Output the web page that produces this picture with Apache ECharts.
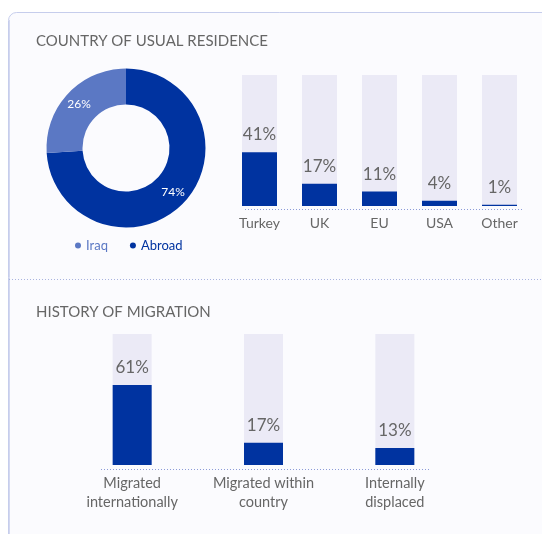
<!DOCTYPE html>
<html>
<head>
<meta charset="utf-8">
<script src="https://cdn.jsdelivr.net/npm/echarts@6/dist/echarts.min.js"></script>
<style>
  html, body { margin: 0; padding: 0; background: #ffffff; }
  #chart { width: 542px; height: 534px; }
</style>
</head>
<body>
<div id="chart"></div>
<script>
// residence donut
const residenceNames = ['Abroad', 'Iraq']
const residenceValues = [74, 26]
const residenceColors = ['#0033a0', '#5b78c4']

// country of residence bars
const countryCategories = ['Turkey', 'UK', 'EU', 'USA', 'Other']
const countryValues = [41, 17, 11, 4, 1]

// history of migration bars
const migrationCategories = ['Migrated\ninternationally', 'Migrated within\ncountry', 'Internally\ndisplaced']
const migrationValues = [61, 17, 13]

const FONT = 'Lato, "Open Sans", sans-serif'
const DARK = '#0033a0'
const BG = '#ebeaf6'
const TEXT = '#666666'

const chart = echarts.init(document.getElementById('chart'), null, { renderer: 'canvas' })

const dotted = (x1, x2, y, color) => ({
  type: 'line',
  silent: true,
  shape: { x1: x1, y1: y, x2: x2, y2: y },
  style: { stroke: color, lineWidth: 1, lineDash: [1, 2] }
})

const barSeries = (values, xi, width) => ({
  type: 'bar',
  xAxisIndex: xi,
  yAxisIndex: xi,
  data: values,
  barWidth: width,
  itemStyle: { color: DARK },
  showBackground: true,
  backgroundStyle: { color: BG },
  label: {
    show: true,
    position: 'top',
    distance: 9,
    formatter: '{c}%',
    fontFamily: FONT,
    fontSize: 17,
    color: TEXT
  },
  silent: true
})

chart.setOption({
  animation: false,
  textStyle: { fontFamily: FONT },
  graphic: [
    {
      type: 'rect',
      z: -10,
      silent: true,
      shape: { x: 8.5, y: 12.5, width: 545, height: 545, r: 8 },
      style: { fill: '#fbfbfe', stroke: '#c6cdec', lineWidth: 1 }
    },
    {
      type: 'line',
      z: -9,
      silent: true,
      shape: { x1: 9.5, y1: 20, x2: 9.5, y2: 540 },
      style: { stroke: '#d3d8f0', lineWidth: 1 }
    },
    dotted(9, 542, 279.5, '#a9b3df'),
    dotted(245, 524, 209.5, '#8c9bd8'),
    dotted(101, 431, 469.5, '#8c9bd8')
  ],
  title: [
    {
      text: 'COUNTRY OF USUAL RESIDENCE',
      left: 31,
      top: 29,
      textStyle: { fontFamily: FONT, fontSize: 15, fontWeight: 'normal', color: TEXT }
    },
    {
      text: 'HISTORY OF MIGRATION',
      left: 31,
      top: 300,
      textStyle: { fontFamily: FONT, fontSize: 15, fontWeight: 'normal', color: TEXT }
    }
  ],
  legend: {
    left: 70,
    top: 234,
    icon: 'circle',
    itemWidth: 6,
    itemHeight: 6,
    itemGap: 22,
    selectedMode: false,
    data: [
      { name: 'Iraq', textStyle: { color: residenceColors[1] } },
      { name: 'Abroad', textStyle: { color: residenceColors[0] } }
    ],
    textStyle: { fontFamily: FONT, fontSize: 13, padding: [0, 0, 0, 0] }
  },
  grid: [
    { left: 229.5, width: 300, top: 75, height: 131 },
    { left: 66.5, width: 394, top: 334, height: 131 }
  ],
  xAxis: [
    {
      type: 'category',
      gridIndex: 0,
      data: countryCategories,
      axisLine: { show: false },
      axisTick: { show: false },
      axisLabel: { interval: 0, fontFamily: FONT, fontSize: 14, color: TEXT, margin: 10 }
    },
    {
      type: 'category',
      gridIndex: 1,
      data: migrationCategories,
      axisLine: { show: false },
      axisTick: { show: false },
      axisLabel: { interval: 0, fontFamily: FONT, fontSize: 14.5, color: TEXT, margin: 9, lineHeight: 19 }
    }
  ],
  yAxis: [
    { type: 'value', gridIndex: 0, min: 0, max: 100, show: false },
    { type: 'value', gridIndex: 1, min: 0, max: 100, show: false }
  ],
  series: [
    {
      type: 'pie',
      center: [126, 148],
      radius: [43.5, 79.5],
      startAngle: 90,
      clockwise: true,
      silent: true,
      data: residenceNames.map((n, i) => ({
        name: n,
        value: residenceValues[i],
        itemStyle: { color: residenceColors[i] }
      })),
      label: {
        show: true,
        position: 'inside',
        formatter: '{c}%',
        fontFamily: FONT,
        fontSize: 12,
        color: '#ffffff'
      },
      labelLine: { show: false },
      itemStyle: { borderWidth: 0 }
    },
    barSeries(countryValues, 0, 35),
    barSeries(migrationValues, 1, 39)
  ]
})
</script>
</body>
</html>
